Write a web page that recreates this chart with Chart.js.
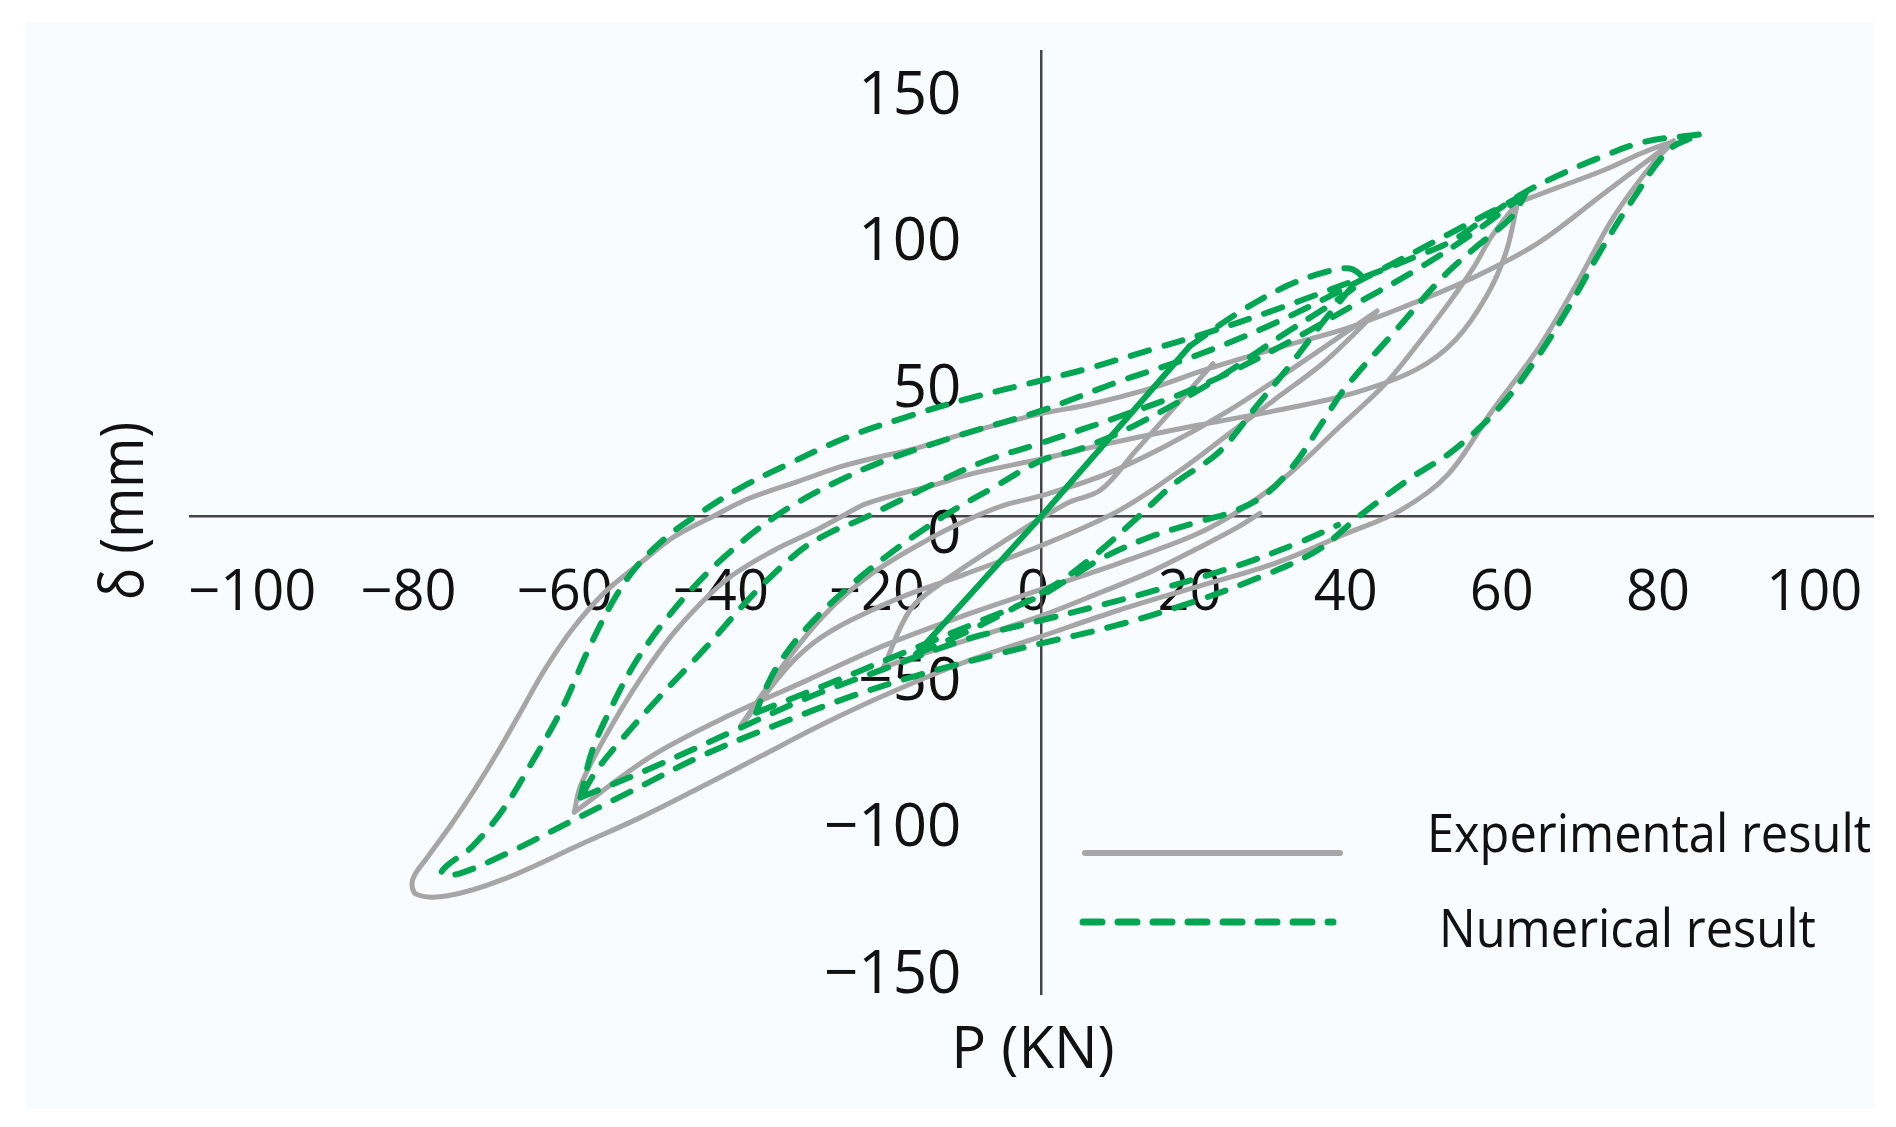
<!DOCTYPE html>
<html><head><meta charset="utf-8">
<script src="https://cdn.jsdelivr.net/npm/chart.js@4/dist/chart.umd.min.js"></script>
<style>html,body{margin:0;padding:0;background:#fff;}canvas{display:block;}</style>
</head><body>
<canvas id="c" width="1896" height="1127"></canvas>
<script>
// ---- tick labels / text ----
const xTickValues = [-100, -80, -60, -40, -20, 0, 20, 40, 60, 80, 100];
const yTickValues = [-150, -100, -50, 0, 50, 100, 150];
const seriesNames = ['Experimental result', 'Numerical result'];
const xTitle = 'P (KN)';
const yTitle = 'δ (mm)';

// ---- Experimental result (P in kN, δ in mm); null separates traced branches ----
const expP = [81,72,63.5,55,47,39,31,21.5,13.8,6,0,-9.4,-15.6,-25,-31,-37.3,-42,-47,-51.2,-55.9,-60,-63.5,-66.5,-69.5,-72.5,-75.5,-78.5,-80.5,-80,-76,-69,-59,-51.5,-44,-36,-28,-20,-10,0,10,20,30,39,46,52,57.7,63.5,68.4,73.2,78.2,81,
  null,
  61,66,72,77,81,
  null,
  61,57.7,55.3,52,48,44,38,32,26,20,10,0,-10,-20,-30,-40,-50,-59.8,
  null,
  -59.8,-59,-55.9,-51.2,-46.6,-40.4,-34.2,-29,-25.5,-22.3,-13.8,-8.7,0,9,20,30,40,48,53,57,59.5,61,
  null,
  43,40,36,30,24,18,10,0,-10,-20,-30,-38.5,
  null,
  -38.5,-34.2,-28,-21.8,-14.1,-9.4,-4.8,0,8,16,24,32,43,
  null,
  22,18,12,7.6,3.3,-5.2,-12.9,-16.8,-20.2,
  null,
  -20.2,-15,-8,0,7.6,14,20,25,28];
const expD = [128,110,93,81,72,64,58,50.4,43.4,38,35,28.5,23.5,17.4,12,6.2,0,-7,-15.7,-26,-38.4,-52,-66,-80,-93,-105,-116,-124,-129,-129.5,-124,-112,-103,-93,-82,-71,-61,-50,-41,-32,-24,-16,-6,2,14,35.8,56.7,78.5,101.7,120,128,
  null,
  107,112,118,124,128,
  null,
  107,95.6,84.6,72,58,45,30,15,3,-6,-16,-25,-34,-44,-56,-68,-82,-101,
  null,
  -101,-92,-75.6,-55,-38.4,-21.9,-11.6,-5,0,4.4,10.6,14.6,19.5,25,31,36,42,50,60,75,90,107,
  null,
  70,62,52,40,28,16,2,-10,-20,-30,-45,-71.5,
  null,
  -71.5,-55,-34.3,-19.8,-7.4,-1.2,3.7,7,14,24,36,50,70,
  null,
  52,40,22,8.9,4.4,-9.3,-23,-32,-51.5,
  null,
  -51.5,-46.8,-41,-34,-26,-19,-11,-4,1];

// ---- Numerical result ----
const numP = [84.2,77.2,71.1,66.4,61.8,57.1,52.5,47.8,43.2,37,29.3,21.5,13.8,6,0,-9.4,-17.2,-24.9,-32.7,-38.9,-44.3,-48.1,-52,-55.1,-58.2,-61.3,-65.2,-69,-72.9,-76,-76.8,-74.5,-68.3,-60.5,-52.8,-43.5,-34.2,-24.9,-15.6,-6.3,0,9.1,18.4,27.7,35.4,40.7,47.2,52.9,58.7,63.5,67.6,71.7,75.7,80.3,84.2,
  null,
  19,25,31,36,39.5,41,38,31,22,12,5,0,-6,-12.5,-19,-25,-30,-33.5,-35.5,-36.5,
  null,
  62,55,48,40,30,20,10,0,-7,-13,-18,-23,-27,-31,-37,-43,-49,-54,-57,-59,
  null,
  62,52,42,30,20,10,0,-10,-20,-26,-31,-34,-38,-43,-48,-52,-55,-57.5,-59,
  null,
  -16,-10,-4,2,7,12.5,17,22.8,27.7,32,36,40,
  null,
  -36.5,-28,-18,-8,0,4,8,14,20,25,29,32.5,36,39,45.6,51.2,55.3,60.2,62,
  null,
  -59,-50,-40,-30,-20,-10,-5.2,0,6.7,15,25,33,38];
const numD = [130.2,127.7,121.9,116.5,110.3,102.1,93.8,88.4,83.5,77.3,69.8,62.8,56.6,50.4,46.3,40.1,33.9,26.9,17.4,9.1,0,-7.4,-17.8,-30.2,-46.7,-65.3,-83.9,-100.4,-112.8,-119,-121.9,-121.9,-114.9,-104.5,-94.2,-81.8,-71.5,-62,-54.1,-47.5,-43.4,-37.6,-30.2,-21.1,-11.6,0,12.8,22.7,37.2,54.1,71.5,90.9,107.9,124.8,130.2,
  null,
  58,69,78,83,84.5,81,74,62,46,31,23,19,10,0,-12,-25,-38,-50,-60,-67,
  null,
  110,96,84,72,57,44,34,25,19,12,5.5,-1,-5.5,-12,-27,-45,-62,-77,-87,-96,
  null,
  110,96,82,66,55,46,36,28,19,12,5,0,-8,-20,-35,-50,-65,-80,-96,
  null,
  -47,-40,-32,-23,-13,0,11,22,38,52,66,79,
  null,
  -67,-58,-47,-36,-27,-20.5,-14,-7,-2,2,8,18,32,44,64,81,91,102,110,
  null,
  -96,-86,-74,-62,-52,-42.3,-38.9,-35.5,-31,-25,-17,-9,-3];

// ---- initial elastic branch of the numerical model (solid) ----
const numInitP = [-16, 0, 19];
const numInitD = [-47, 0, 58];

const toPts = (xs, ys) => xs.map((x, i) => ({x: x, y: ys[i]}));
const minusFmt = v => (v < 0 ? '\u2212' + Math.abs(v) : String(v));

const GRAY = '#a6a6a6';
const GREEN = '#00a651';
const FONT = "'Open Sans', 'Noto Sans', sans-serif";

const decor = {
  id: 'decor',
  beforeDraw(chart) {
    const c = chart.ctx;
    c.save();
    c.fillStyle = '#ffffff';
    c.fillRect(0, 0, chart.width, chart.height);
    c.fillStyle = '#f8fcfe';
    c.fillRect(26, 22, 1848, 1087);
    c.restore();
  },
  beforeDatasetsDraw(chart) {
    const c = chart.ctx, xs = chart.scales.x, ys = chart.scales.y;
    const x0 = xs.getPixelForValue(0);
    c.save();
    c.font = '60px ' + FONT;
    c.fillStyle = '#111';
    c.textAlign = 'right';
    c.textBaseline = 'middle';
    ys.ticks.forEach(t => c.fillText(minusFmt(t.value), x0 - 80, ys.getPixelForValue(t.value) + 20));
    c.restore();
  },
  afterDraw(chart) {
    const c = chart.ctx;
    c.save();
    c.fillStyle = '#111';
    c.font = '58px ' + FONT;
    c.textAlign = 'center';
    c.textBaseline = 'alphabetic';
    c.fillText(xTitle, 1033, 1068);
    c.save();
    c.translate(143, 511);
    c.rotate(-Math.PI / 2);
    c.scale(0.9, 1);
    c.font = '60px ' + FONT;
    c.fillText(yTitle, 0, 0);
    c.restore();
    const ds = chart.data.datasets;
    const rows = [
      {d: ds[1], x1: 1085, x2: 1340, y: 853, tx: 1427, ty: 852, name: seriesNames[0]},
      {d: ds[0], x1: 1083, x2: 1333, y: 922, tx: 1439, ty: 947, name: seriesNames[1]}
    ];
    rows.forEach(r => {
      c.save();
      c.strokeStyle = r.d.borderColor;
      c.lineWidth = r.d.borderWidth + 1;
      c.lineCap = r.d.borderCapStyle || 'butt';
      c.setLineDash(r.d.borderDash || []);
      c.beginPath();
      c.moveTo(r.x1, r.y);
      c.lineTo(r.x2, r.y);
      c.stroke();
      c.restore();
      c.save();
      c.translate(r.tx, r.ty);
      c.scale(0.92, 1);
      c.font = '53px ' + FONT;
      c.textAlign = 'left';
      c.fillStyle = '#111';
      c.fillText(r.name, 0, 0);
      c.restore();
    });
    c.restore();
  }
};

const resetPad = s => { s.paddingLeft = 0; s.paddingRight = 0; s.paddingTop = 0; s.paddingBottom = 0; };

new Chart(document.getElementById('c'), {
  type: 'scatter',
  data: {
    datasets: [
      {
        label: seriesNames[1],
        data: toPts(numP, numD),
        showLine: true, spanGaps: false,
        borderColor: GREEN, borderWidth: 6, borderDash: [19, 16], borderCapStyle: 'round',
        pointRadius: 0, tension: 0.35, order: 0
      },
      {
        label: seriesNames[0],
        data: toPts(expP, expD),
        showLine: true, spanGaps: false,
        borderColor: GRAY, borderWidth: 5, borderCapStyle: 'round', borderJoinStyle: 'round',
        pointRadius: 0, tension: 0.35, order: 2
      },
      {
        label: 'numInit',
        data: toPts(numInitP, numInitD),
        showLine: true,
        borderColor: GREEN, borderWidth: 6, borderCapStyle: 'round',
        pointRadius: 0, tension: 0, order: 1
      }
    ]
  },
  options: {
    responsive: false,
    animation: false,
    devicePixelRatio: 1,
    layout: {padding: {left: 190, right: 23, top: 51, bottom: 133}},
    plugins: {legend: {display: false}, tooltip: {enabled: false}},
    scales: {
      x: {
        type: 'linear', position: {y: 0}, min: -109, max: 106.5,
        afterBuildTicks: a => { a.ticks = xTickValues.map(v => ({value: v})); },
        afterFit: resetPad,
        grid: {display: true, drawOnChartArea: false, drawTicks: false},
        border: {display: true, color: '#454545', width: 2.5},
        ticks: {font: {family: FONT, size: 56}, color: '#111', padding: 44, labelOffset: -8,
                autoSkip: false, maxRotation: 0, callback: v => minusFmt(v)}
      },
      y: {
        type: 'linear', position: {x: 0}, min: -163, max: 158.7,
        afterBuildTicks: a => { a.ticks = yTickValues.map(v => ({value: v})); },
        afterFit: resetPad,
        grid: {display: true, drawOnChartArea: false, drawTicks: false},
        border: {display: true, color: '#454545', width: 2.5},
        ticks: {display: false}
      }
    }
  },
  plugins: [decor]
});
</script>
</body></html>
